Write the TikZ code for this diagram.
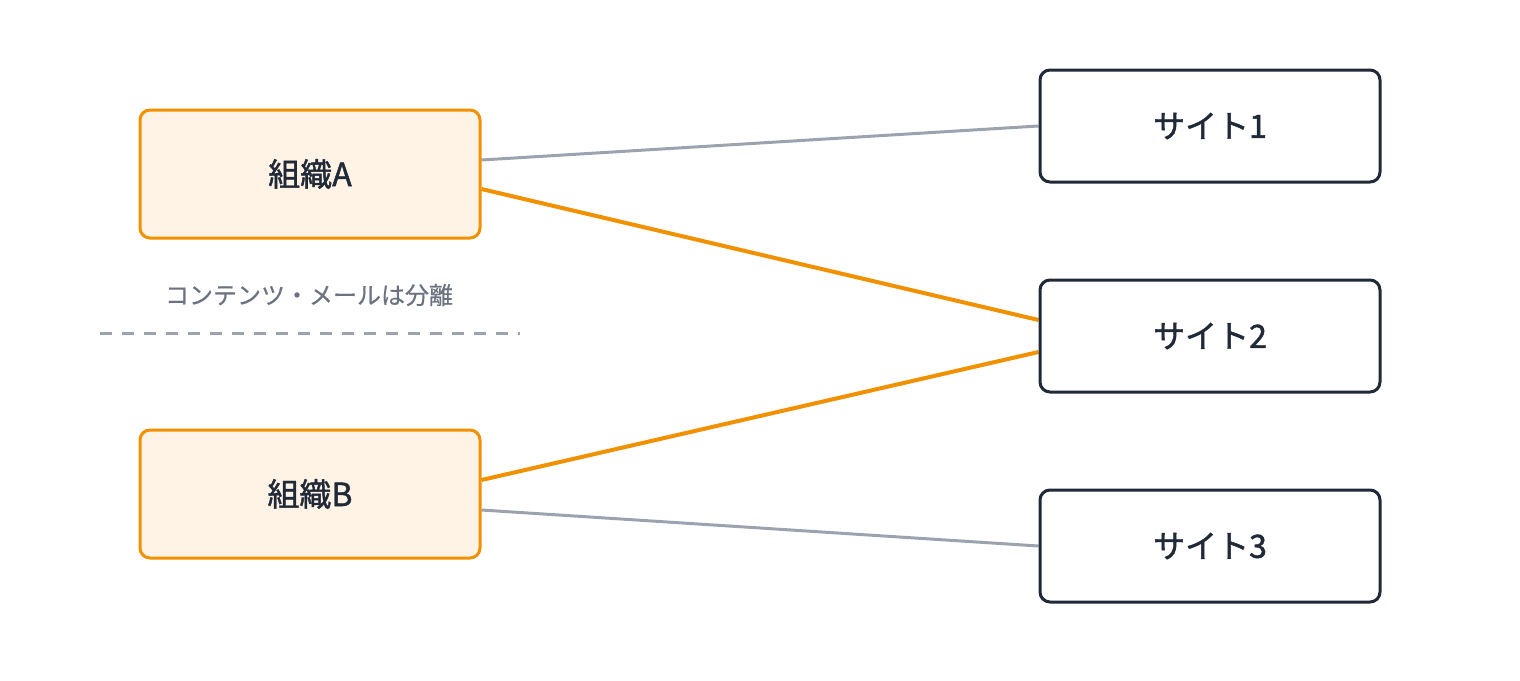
\documentclass[tikz,border=0pt]{standalone}
\usepackage{fontspec}
\setmainfont{Noto Sans CJK JP}
\newfontfamily\cjkm[FakeBold=1.4]{Noto Sans CJK JP}
\newfontfamily\cjkn[FakeBold=0.4]{Noto Sans CJK JP}
\usetikzlibrary{calc}
\definecolor{orng}{HTML}{F29100}
\definecolor{orfill}{HTML}{FFF3E6}
\definecolor{ink}{HTML}{1F2937}
\definecolor{gline}{HTML}{9CA3AF}
\definecolor{glabel}{HTML}{6B7280}
\pgfdeclarelayer{bg}
\pgfsetlayers{bg,main}
\begin{document}
\begin{tikzpicture}[x=1pt,y=-1pt,
  org/.style={draw=orng, fill=orfill, line width=3pt, rounded corners=10pt,
    minimum width=340pt, minimum height=128pt, inner sep=0pt,
    font=\cjkm\fontsize{32}{36}\selectfont, text=ink},
  site/.style={draw=ink, fill=white, line width=3pt, rounded corners=10pt,
    minimum width=340pt, minimum height=112pt, inner sep=0pt,
    font=\cjkm\fontsize{32}{36}\selectfont, text=ink},
  glink/.style={draw=gline, line width=3pt},
  olink/.style={draw=orng, line width=4pt},
  sep/.style={draw=gline, line width=3pt, dash pattern=on 12pt off 10pt},
  note/.style={font=\cjkn\fontsize{24}{28}\selectfont, text=glabel}]
\useasboundingbox (0,0) rectangle (1520,680);
\node[org] (A) at (310,174) {組織A};
\node[org] (B) at (310,494) {組織B};
\node[site] (S1) at (1210,126) {サイト1};
\node[site] (S2) at (1210,336) {サイト2};
\node[site] (S3) at (1210,546) {サイト3};
\node[note] (L) at (309,295) {コンテンツ・メールは分離};
\coordinate (d1) at (100,333);
\coordinate (d2) at (520,333);
\draw[sep] (d1) -- (d2);
\begin{pgfonlayer}{bg}
\draw[glink] ($(A.east)+(0,-14)$) -- (S1.west);
\draw[olink] ($(A.east)+(0,15)$) -- ($(S2.west)+(0,-16)$);
\draw[olink] ($(B.east)+(0,-14)$) -- ($(S2.west)+(0,16)$);
\draw[glink] ($(B.east)+(0,16)$) -- (S3.west);
\end{pgfonlayer}
\end{tikzpicture}
\end{document}
